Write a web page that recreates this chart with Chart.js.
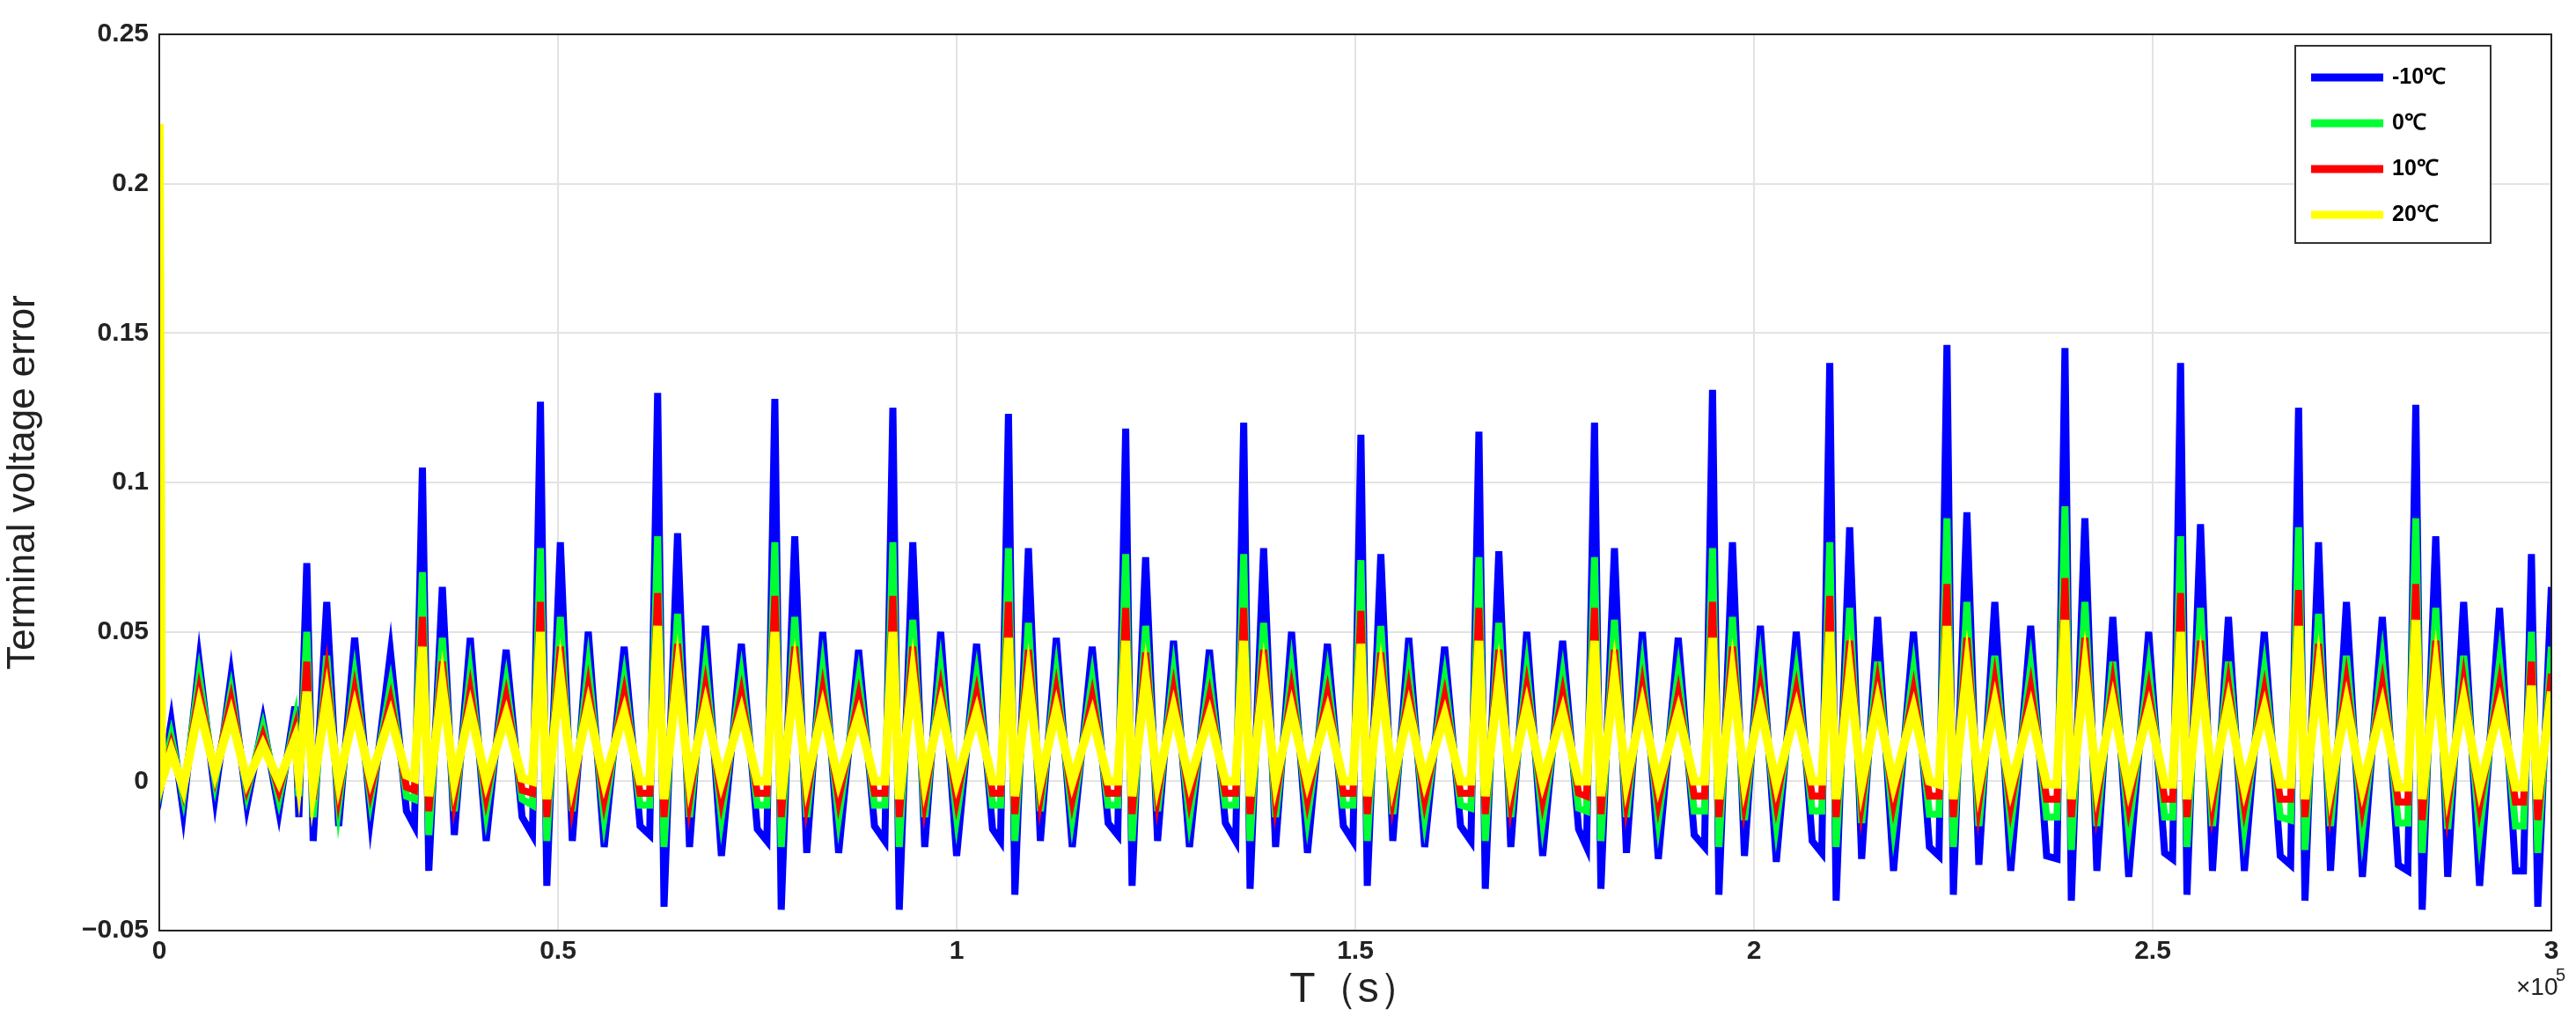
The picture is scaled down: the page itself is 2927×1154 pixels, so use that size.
<!DOCTYPE html>
<html><head><meta charset="utf-8">
<script src="https://cdn.jsdelivr.net/npm/chart.js@4"></script>
<style>html,body{margin:0;padding:0;background:#fff}#w{width:2927px;height:1154px}</style>
</head><body><div id="w"><canvas id="c"></canvas></div>
<script>
const seriesLabels = ['-10℃','0℃','10℃','20℃'];
const seriesColors = ['#0000ff','#00ff33','#ff0000','#ffff00'];
const xTickLabels = ['0','0.5','1','1.5','2','2.5','3'];
const times = [0,300,1500,3000,5000,7000,9000,11000,13000,15000,17000,
17500,18500,19300,21000,22500,24500,26500,29000,31000,
32000,33000,33800,35500,37000,39000,41000,43500,45500,
46800,47800,48600,50300,51800,53800,55800,58300,60300,
61500,62500,63300,65000,66500,68500,70500,73000,75000,
76200,77200,78000,79700,81200,83200,85200,87700,89700,
91000,92000,92800,94500,96000,98000,100000,102500,104500,
105500,106500,107300,109000,110500,112500,114500,117000,119000,
120200,121200,122000,123700,125200,127200,129200,131700,133700,
135000,136000,136800,138500,140000,142000,144000,146500,148500,
149700,150700,151500,153200,154700,156700,158700,161200,163200,
164500,165500,166300,168000,169500,171500,173500,176000,178000,
179000,180000,180800,182500,184000,186000,188000,190500,192500,
193800,194800,195600,197300,198800,200800,202800,205300,207300,
208500,209500,210300,212000,213500,215500,217500,220000,222000,
223200,224200,225000,226700,228200,230200,232200,234700,236700,
238000,239000,239800,241500,243000,245000,247000,249500,251500,
252500,253500,254300,256000,257500,259500,261500,264000,266000,
267300,268300,269100,270800,272300,274300,276300,278800,280800,
282000,283000,283800,285500,287000,289000,291000,293500,295500,
296500,297500,298300,300000];
const errMinus10 = [0.01,0.0,0.02,-0.01,0.04,-0.005,0.035,-0.008,0.02,-0.01,0.025,
-0.012,0.073,-0.02,0.06,-0.015,0.048,-0.012,0.043,-0.01,
-0.015,0.105,-0.03,0.065,-0.018,0.048,-0.02,0.044,-0.012,
-0.018,0.127,-0.035,0.08,-0.02,0.05,-0.022,0.045,-0.015,
-0.018,0.13,-0.042,0.083,-0.022,0.052,-0.025,0.046,-0.016,
-0.02,0.128,-0.043,0.082,-0.024,0.05,-0.024,0.044,-0.015,
-0.02,0.125,-0.043,0.08,-0.022,0.05,-0.025,0.046,-0.016,
-0.02,0.123,-0.038,0.078,-0.02,0.048,-0.022,0.045,-0.014,
-0.018,0.118,-0.035,0.075,-0.02,0.047,-0.022,0.044,-0.014,
-0.02,0.12,-0.036,0.078,-0.022,0.05,-0.024,0.046,-0.015,
-0.02,0.116,-0.035,0.076,-0.02,0.048,-0.022,0.045,-0.015,
-0.02,0.117,-0.036,0.077,-0.022,0.05,-0.025,0.047,-0.016,
-0.022,0.12,-0.036,0.078,-0.024,0.05,-0.026,0.048,-0.018,
-0.022,0.131,-0.038,0.08,-0.025,0.052,-0.027,0.05,-0.02,
-0.024,0.14,-0.04,0.085,-0.026,0.055,-0.03,0.05,-0.022,
-0.025,0.146,-0.038,0.09,-0.028,0.06,-0.03,0.052,-0.025,
-0.026,0.145,-0.04,0.088,-0.03,0.055,-0.032,0.05,-0.024,
-0.026,0.14,-0.038,0.086,-0.03,0.055,-0.03,0.05,-0.025,
-0.028,0.125,-0.04,0.08,-0.03,0.06,-0.032,0.055,-0.028,
-0.03,0.126,-0.043,0.082,-0.032,0.06,-0.035,0.058,-0.03,
-0.03,0.076,-0.042,0.065];
const err0 = [0.01,0.0,0.015,-0.005,0.035,0,0.03,-0.004,0.018,-0.006,0.02,
-0.005,0.05,-0.012,0.042,-0.008,0.035,-0.006,0.032,-0.005,
-0.006,0.07,-0.018,0.048,-0.01,0.036,-0.01,0.033,-0.006,
-0.008,0.078,-0.02,0.055,-0.01,0.038,-0.012,0.034,-0.008,
-0.008,0.082,-0.022,0.056,-0.012,0.038,-0.012,0.035,-0.008,
-0.008,0.08,-0.022,0.055,-0.012,0.037,-0.012,0.034,-0.008,
-0.008,0.08,-0.022,0.054,-0.012,0.037,-0.012,0.035,-0.008,
-0.008,0.078,-0.02,0.053,-0.01,0.036,-0.012,0.034,-0.008,
-0.008,0.076,-0.02,0.052,-0.01,0.036,-0.012,0.034,-0.008,
-0.008,0.076,-0.02,0.053,-0.012,0.037,-0.012,0.035,-0.008,
-0.008,0.074,-0.02,0.052,-0.011,0.036,-0.012,0.034,-0.008,
-0.009,0.075,-0.02,0.053,-0.012,0.037,-0.013,0.035,-0.009,
-0.01,0.075,-0.02,0.054,-0.012,0.037,-0.013,0.036,-0.01,
-0.01,0.078,-0.022,0.055,-0.013,0.038,-0.014,0.036,-0.01,
-0.01,0.08,-0.022,0.058,-0.014,0.04,-0.015,0.037,-0.011,
-0.011,0.088,-0.022,0.06,-0.015,0.042,-0.015,0.038,-0.012,
-0.012,0.092,-0.023,0.06,-0.015,0.04,-0.016,0.037,-0.012,
-0.012,0.082,-0.022,0.058,-0.015,0.04,-0.015,0.037,-0.012,
-0.013,0.085,-0.023,0.056,-0.015,0.042,-0.016,0.04,-0.014,
-0.014,0.088,-0.024,0.058,-0.016,0.042,-0.017,0.04,-0.015,
-0.015,0.05,-0.024,0.045];
const err10 = [0.01,0.0,0.012,-0.003,0.03,0.002,0.027,-0.002,0.015,-0.003,0.017,
-0.002,0.04,-0.006,0.035,-0.004,0.03,-0.003,0.027,-0.002,
-0.003,0.055,-0.01,0.04,-0.005,0.03,-0.005,0.028,-0.003,
-0.004,0.06,-0.012,0.045,-0.006,0.031,-0.006,0.029,-0.004,
-0.004,0.063,-0.012,0.046,-0.006,0.031,-0.006,0.029,-0.004,
-0.004,0.062,-0.012,0.045,-0.006,0.03,-0.006,0.028,-0.004,
-0.004,0.062,-0.012,0.045,-0.006,0.03,-0.006,0.029,-0.004,
-0.004,0.06,-0.011,0.044,-0.005,0.03,-0.006,0.028,-0.004,
-0.004,0.058,-0.011,0.043,-0.005,0.03,-0.006,0.028,-0.004,
-0.004,0.058,-0.011,0.044,-0.006,0.03,-0.006,0.029,-0.004,
-0.004,0.057,-0.011,0.043,-0.005,0.03,-0.006,0.028,-0.004,
-0.004,0.058,-0.011,0.044,-0.006,0.031,-0.006,0.029,-0.004,
-0.005,0.058,-0.011,0.044,-0.006,0.031,-0.007,0.029,-0.005,
-0.005,0.06,-0.012,0.045,-0.006,0.031,-0.007,0.03,-0.005,
-0.005,0.062,-0.012,0.047,-0.007,0.032,-0.007,0.03,-0.005,
-0.005,0.066,-0.012,0.048,-0.007,0.033,-0.008,0.031,-0.006,
-0.006,0.068,-0.012,0.048,-0.007,0.032,-0.008,0.03,-0.006,
-0.006,0.063,-0.012,0.047,-0.007,0.032,-0.008,0.03,-0.006,
-0.006,0.064,-0.012,0.046,-0.007,0.033,-0.008,0.032,-0.007,
-0.007,0.066,-0.013,0.047,-0.008,0.033,-0.008,0.032,-0.007,
-0.007,0.04,-0.013,0.036];
const err20 = [0.22,0.0,0.01,-0.002,0.025,0.003,0.022,0,0.012,0,0.014,
0.002,0.03,-0.002,0.028,0,0.024,0.001,0.022,0.002,
0.001,0.045,-0.005,0.032,0,0.024,0,0.022,0.001,
0,0.05,-0.006,0.035,0,0.025,0,0.023,0,
0,0.052,-0.006,0.036,0,0.025,0,0.023,0,
0,0.05,-0.006,0.035,0,0.024,0,0.022,0,
0,0.05,-0.006,0.035,0,0.025,0,0.023,0,
0,0.048,-0.005,0.034,0,0.024,0,0.022,0,
0,0.047,-0.005,0.034,0,0.024,0,0.022,0,
0,0.047,-0.005,0.034,0,0.024,0,0.023,0,
0,0.046,-0.005,0.034,0,0.024,0,0.022,0,
0,0.047,-0.005,0.034,0,0.025,0,0.023,0,
0,0.047,-0.005,0.035,0,0.025,-0.001,0.023,0,
0,0.048,-0.006,0.035,0,0.025,-0.001,0.024,0,
0,0.05,-0.006,0.036,-0.001,0.026,-0.001,0.024,0,
-0.001,0.052,-0.006,0.037,-0.001,0.026,-0.002,0.024,-0.001,
-0.001,0.054,-0.006,0.037,-0.001,0.026,-0.002,0.024,-0.001,
-0.001,0.05,-0.006,0.036,-0.001,0.026,-0.002,0.024,-0.001,
-0.001,0.052,-0.006,0.036,-0.002,0.026,-0.002,0.025,-0.002,
-0.002,0.054,-0.006,0.037,-0.002,0.027,-0.002,0.025,-0.002,
-0.002,0.032,-0.006,0.03];
const seriesValues = [errMinus10, err0, err10, err20];

const FONT = '"Liberation Sans", Arial, sans-serif';
const legendBox = {
  id:'legendBox',
  afterDraw(chart){
    const ctx = chart.ctx;
    const x0=2608,y0=52,w=222,h=224;
    ctx.save();
    ctx.fillStyle='#fff';ctx.fillRect(x0,y0,w,h);
    ctx.strokeStyle='#333';ctx.lineWidth=2;ctx.strokeRect(x0,y0,w,h);
    chart.data.datasets.forEach((ds,i)=>{
      const y=y0+36+i*52;
      ctx.strokeStyle=ds.borderColor;ctx.lineWidth=9;
      ctx.beginPath();ctx.moveTo(x0+18,y);ctx.lineTo(x0+100,y);ctx.stroke();
      ctx.fillStyle='#000';ctx.font='bold 25px '+FONT;ctx.textBaseline='middle';
      ctx.fillText(ds.label,x0+110,y);
    });
    const a=chart.chartArea;
    ctx.fillStyle='#222';ctx.font='28px '+FONT;ctx.textBaseline='alphabetic';ctx.textAlign='left';
    ctx.fillText('×10',a.right-40,1130);
    ctx.font='20px '+FONT;ctx.fillText('5',a.right+5,1114);
    ctx.strokeStyle='#222';ctx.lineWidth=2;ctx.strokeRect(a.left,a.top,a.right-a.left,a.bottom-a.top);
    ctx.restore();
  }
};
new Chart(document.getElementById('c'),{
  type:'line',
  data:{datasets:seriesLabels.map((l,i)=>({
    label:l,
    data:times.map((t,j)=>({x:t,y:seriesValues[i][j]})),
    borderColor:seriesColors[i],backgroundColor:seriesColors[i],
    borderWidth:i===3?10:8,pointRadius:0,tension:0,order:4-i
  }))},
  options:{
    responsive:true,maintainAspectRatio:false,animation:false,
    layout:{padding:{left:0,right:28,top:39,bottom:0}},
    plugins:{legend:{display:false},tooltip:{enabled:false}},
    scales:{
      x:{type:'linear',min:0,max:300000,
        afterBuildTicks(s){s.ticks=xTickLabels.map(v=>({value:parseFloat(v)*100000}));},
        afterFit(s){s.height=97;},
        ticks:{callback:(v,i)=>xTickLabels[i],font:{family:FONT,size:30,weight:'bold'},color:'#222',maxRotation:0,padding:6},
        grid:{color:'#e3e3e3',lineWidth:2,drawTicks:false},border:{display:false},
        title:{display:true,text:'T（s）',font:{family:FONT,size:48},color:'#222',padding:{top:0,bottom:0}}
      },
      y:{min:-0.05,max:0.25,
        afterBuildTicks(s){s.ticks=[-0.05,0,0.05,0.1,0.15,0.2,0.25].map(v=>({value:v}));},
        afterFit(s){s.width=181;},
        ticks:{callback:v=>(v<0?'−':'')+String(Math.abs(Math.round(v*100)/100)),font:{family:FONT,size:30,weight:'bold'},color:'#222',padding:12},
        grid:{color:'#e3e3e3',lineWidth:2,drawTicks:false},border:{display:false},
        title:{display:true,text:'Terminal voltage error',font:{family:FONT,size:44},color:'#222',padding:{top:0,bottom:6}}
      }
    }
  },
  plugins:[legendBox]
});
</script></body></html>
